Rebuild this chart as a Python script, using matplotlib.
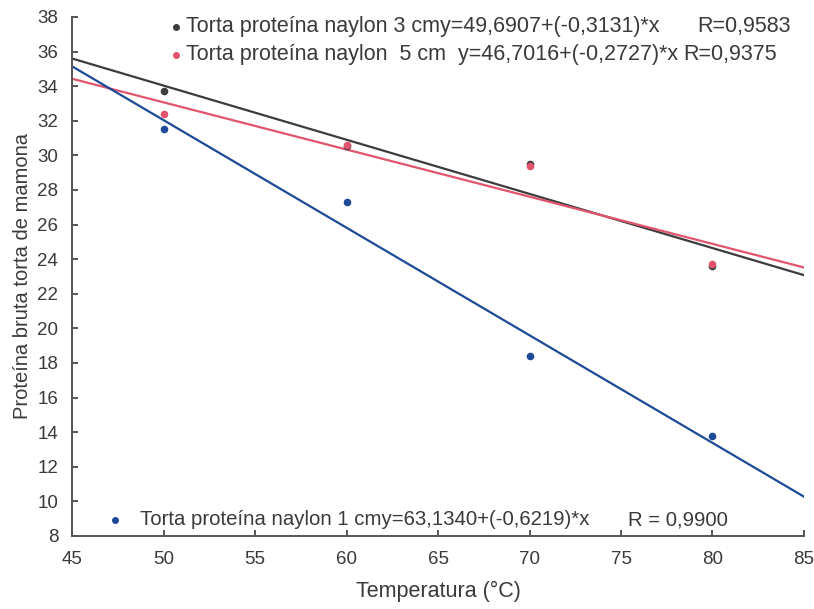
import numpy as np
import matplotlib
matplotlib.use("Agg")
import matplotlib.pyplot as plt

plt.rcParams['font.family'] = ['Liberation Sans', 'DejaVu Sans']

# Dados: temperatura e proteína bruta
temperatura = [50, 60, 70, 80]
proteina_1cm = [31.5, 27.3, 18.4, 13.8]
proteina_3cm = [33.7, 30.55, 29.5, 23.6]
proteina_5cm = [32.4, 30.6, 29.4, 23.7]

# Coeficientes das regressões (a + b*x)
reg_1cm = (63.1340, -0.6219)
reg_3cm = (49.6907, -0.3131)
reg_5cm = (46.7016, -0.2727)

cor_1 = "#1d4a96"
cor_3 = "#3c3c3c"
cor_5 = "#e2546c"
cor_texto = "#3a3a3a"

fig = plt.figure(figsize=(8.14, 6.09), dpi=100)
ax = fig.add_axes([0.0885, 0.1199, 0.8992, 0.8522])

xs = np.array([45, 85])
ax.plot(xs, reg_3cm[0] + reg_3cm[1] * xs, color=cor_3, lw=1.6)
ax.plot(xs, reg_5cm[0] + reg_5cm[1] * xs, color=cor_5, lw=1.6)
ax.plot(xs, reg_1cm[0] + reg_1cm[1] * xs, color=cor_1, lw=1.6)

ax.scatter(temperatura, proteina_3cm, s=20, color=cor_3, zorder=3)
ax.scatter(temperatura, proteina_5cm, s=20, color=cor_5, zorder=4)
ax.scatter(temperatura, proteina_1cm, s=20, color=cor_1, zorder=4)

ax.set_xlim(45, 85)
ax.set_ylim(8, 38)
ax.set_xticks(range(45, 86, 5))
ax.set_yticks(range(8, 39, 2))
ax.tick_params(direction='in', length=4, labelsize=13.5, colors=cor_texto, width=1.2)
ax.tick_params(axis='x', pad=11)
ax.tick_params(axis='y', pad=10)
for s in ['top', 'right']:
    ax.spines[s].set_visible(False)
for s in ['left', 'bottom']:
    ax.spines[s].set_color("#555555")
    ax.spines[s].set_linewidth(1.4)

ax.set_xlabel("Temperatura (°C)", fontsize=15.5, color=cor_texto, labelpad=9)
ax.set_ylabel("Proteína bruta torta de mamona", fontsize=14.5, color=cor_texto, labelpad=4)

# Legendas com equações
fs = 15.5
ax.plot([0.142], [0.981], 'o', ms=4, color=cor_3, transform=ax.transAxes, clip_on=False)
ax.text(0.156, 0.981, "Torta proteína naylon 3 cmy=49,6907+(-0,3131)*x", transform=ax.transAxes,
        fontsize=fs, color=cor_texto, va='center')
ax.text(0.854, 0.981, "R=0,9583", transform=ax.transAxes, fontsize=fs, color=cor_texto, va='center')

ax.plot([0.142], [0.927], 'o', ms=4, color=cor_5, transform=ax.transAxes, clip_on=False)
ax.text(0.156, 0.927, "Torta proteína naylon  5 cm  y=46,7016+(-0,2727)*x", transform=ax.transAxes,
        fontsize=fs, color=cor_texto, va='center')
ax.text(0.835, 0.927, "R=0,9375", transform=ax.transAxes, fontsize=fs, color=cor_texto, va='center')

ax.plot([0.059], [0.031], 'o', ms=4, color=cor_1, transform=ax.transAxes, clip_on=False)
ax.text(0.093, 0.031, "Torta proteína naylon 1 cmy=63,1340+(-0,6219)*x", transform=ax.transAxes,
        fontsize=14.7, color=cor_texto, va='center')
ax.text(0.76, 0.031, "R = 0,9900", transform=ax.transAxes, fontsize=14.7, color=cor_texto, va='center')

fig.savefig("out.png", dpi=100)
